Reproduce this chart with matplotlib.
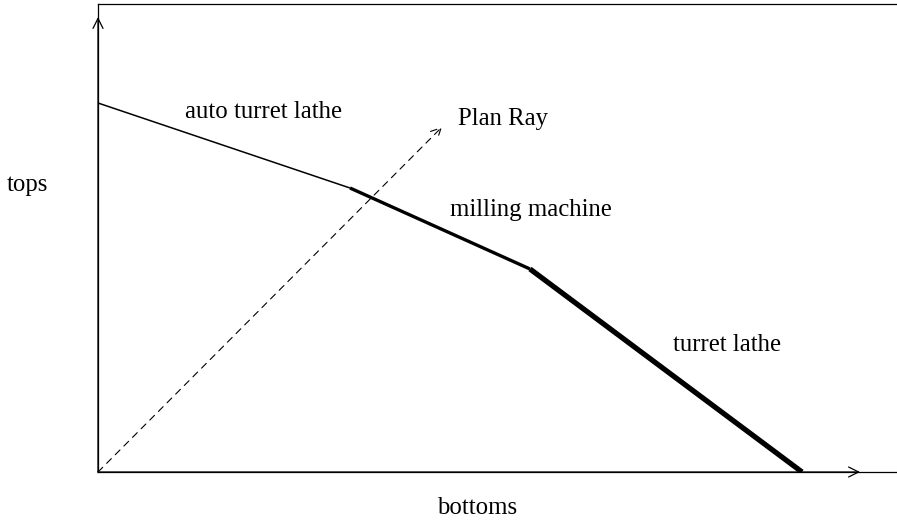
import matplotlib
matplotlib.use("Agg")
import matplotlib.pyplot as plt

plt.rcParams['font.family'] = ['Liberation Serif', 'DejaVu Serif']

# frontier segments (bottoms, tops)
seg_names = ["auto turret lathe", "milling machine", "turret lathe"]
seg_bottoms = [[0, 252], [252, 432], [432, 704]]
seg_tops = [[369, 284], [284, 203], [203, 0]]
seg_widths = [1.1, 2.4, 3.8]
label_pos = [(165, 360), (433, 262), (629, 127)]

# plan ray
ray_bottoms = [0, 344]
ray_tops = [0, 345]

fig = plt.figure(figsize=(8.97, 5.21), dpi=100)
ax = fig.add_axes([98 / 897, 49 / 521, 799 / 897, 468 / 521])
ax.set_xlim(0, 799)
ax.set_ylim(0, 468)

for b, t, w in zip(seg_bottoms, seg_tops, seg_widths):
    ax.plot(b, t, color='black', lw=w, solid_capstyle='butt')

for name, (x, y) in zip(seg_names, label_pos):
    ax.text(x, y, name, ha='center', va='center', fontsize=17.8)

ax.annotate("", xy=(ray_bottoms[1], ray_tops[1]), xytext=(ray_bottoms[0], ray_tops[0]),
            arrowprops=dict(arrowstyle='->', lw=0.8, linestyle=(0, (6, 5)),
                            mutation_scale=18, shrinkA=0, shrinkB=0))
ax.text(360, 353, "Plan Ray", ha='left', va='center', fontsize=17.8)

# axis arrows
ax.annotate("", xy=(0, 455), xytext=(0, 0),
            arrowprops=dict(arrowstyle='->', lw=0.9, mutation_scale=18, shrinkA=0, shrinkB=0))
ax.annotate("", xy=(762, 0), xytext=(0, 0),
            arrowprops=dict(arrowstyle='->', lw=0.9, mutation_scale=18, shrinkA=0, shrinkB=0))

ax.spines['right'].set_visible(False)
for s in ['left', 'bottom', 'top']:
    ax.spines[s].set_linewidth(0.9)
ax.set_xticks([])
ax.set_yticks([])

fig.text(27 / 897, 1 - 185 / 521, "tops", ha='center', va='center', fontsize=17.8)
fig.text(477 / 897, 1 - 508 / 521, "bottoms", ha='center', va='center', fontsize=17.8)

fig.savefig("out.png", dpi=100)
